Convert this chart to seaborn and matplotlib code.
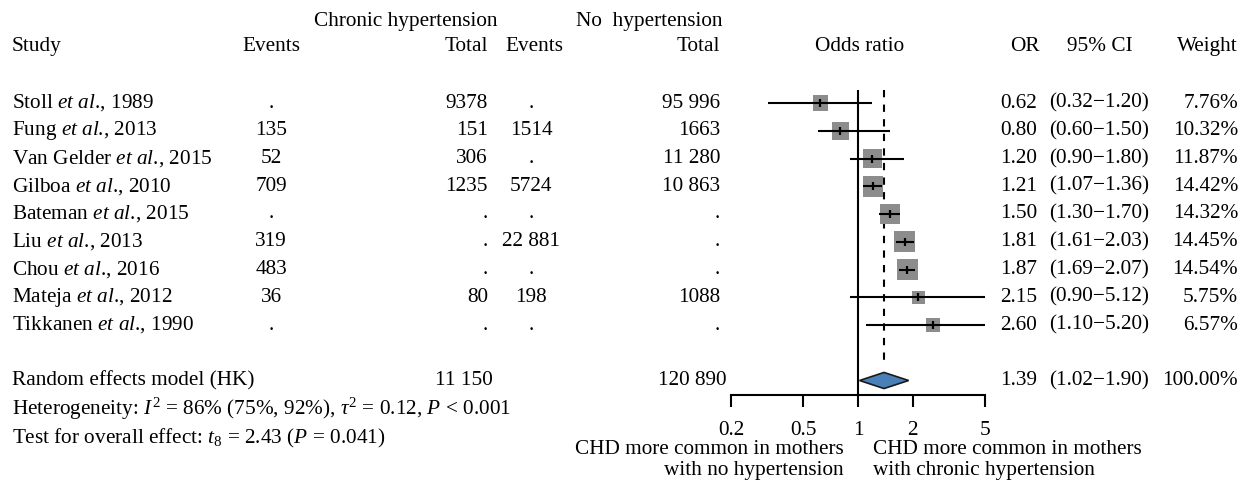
import numpy as np
import pandas as pd
import matplotlib
matplotlib.use("Agg")
import matplotlib.pyplot as plt
import matplotlib.transforms as mtransforms
import seaborn as sns

# ---------------- data ----------------
studies = [r"Stoll $\mathit{et\ al}$., 1989", r"Fung $\mathit{et\ al}$., 2013",
           r"Van Gelder $\mathit{et\ al}$., 2015", r"Gilboa $\mathit{et\ al}$., 2010",
           r"Bateman $\mathit{et\ al}$., 2015", r"Liu $\mathit{et\ al}$., 2013",
           r"Chou $\mathit{et\ al}$., 2016", r"Mateja $\mathit{et\ al}$., 2012",
           r"Tikkanen $\mathit{et\ al}$., 1990"]
ch_events = [".", "135", "52", "709", ".", "319", "483", "36", "."]
ch_total = ["9378", "151", "306", "1235", ".", ".", ".", "80", "."]
no_events = [".", "1514", ".", "5724", ".", "22 881", ".", "198", "."]
no_total = ["95 996", "1663", "11 280", "10 863", ".", ".", ".", "1088", "."]
odds = [0.62, 0.80, 1.20, 1.21, 1.50, 1.81, 1.87, 2.15, 2.60]
ci_low = [0.32, 0.60, 0.90, 1.07, 1.30, 1.61, 1.69, 0.90, 1.10]
ci_high = [1.20, 1.50, 1.80, 1.36, 1.70, 2.03, 2.07, 5.12, 5.20]
weights = [7.76, 10.32, 11.87, 14.42, 14.32, 14.45, 14.54, 5.75, 6.57]

summary_label = "Random effects model (HK)"
summary_ch_total = "11 150"
summary_no_total = "120 890"
summary_or = 1.39
summary_low = 1.02
summary_high = 1.90
summary_weight = 100.00

ticks = [0.2, 0.5, 1, 2, 5]
tick_labels = ["0.2", "0.5", "1", "2", "5"]

# ---------------- style ----------------
sns.set_theme(style="white")
plt.rcParams["font.family"] = ["Liberation Serif", "DejaVu Serif"]
plt.rcParams["mathtext.fontset"] = "custom"
plt.rcParams["mathtext.rm"] = "Liberation Serif"
plt.rcParams["mathtext.it"] = "Liberation Serif:italic"
plt.rcParams["mathtext.bf"] = "Liberation Serif:bold"
plt.rcParams["text.color"] = "black"
plt.rcParams["xtick.color"] = "black"
plt.rcParams["xtick.labelcolor"] = "black"

FS = 15.3
W, H = 1252, 483
fig = plt.figure(figsize=(W / 100, H / 100), dpi=100)

ax_left, ax_right = 731, 985
ax_top, ax_bot = 90, 395
ax = fig.add_axes([ax_left / W, 1 - ax_bot / H, (ax_right - ax_left) / W, (ax_bot - ax_top) / H])

n = len(studies)
rows = np.arange(n)
sum_row = n + 1
row_px = 27.75
y_top = -(103 - ax_top) / row_px
y_bot = (ax_bot - 103) / row_px

df = pd.DataFrame({"row": rows, "odds": odds, "lo": ci_low, "hi": ci_high, "w": weights})

# squares sized by weight
sns.scatterplot(data=df, x="odds", y="row", size="w", sizes=(0, 1550), size_norm=(0, 100),
                marker="s", color="#8c8c8c", edgecolor="none", legend=False, ax=ax, zorder=2)
# CI lines
ax.hlines(df["row"], df["lo"], df["hi"], color="black", lw=1.5, zorder=3)
# point estimate tick
sns.scatterplot(data=df, x="odds", y="row", marker="|", s=40, color="black",
                linewidth=1.6, legend=False, ax=ax, zorder=4)

# reference lines
ax.axvline(1, color="black", lw=1.5, zorder=1)
ax.plot([summary_or, summary_or], [y_top, n + 0.45], color="black", lw=1.5,
        dashes=(3.5, 3.5), zorder=1)

# summary diamond
dh = 0.29
ax.fill([summary_low, summary_or, summary_high, summary_or],
        [sum_row, sum_row - dh, sum_row, sum_row + dh],
        facecolor="#4a80b8", edgecolor="#1a1a1a", lw=1.2, zorder=3)

ax.set_xscale("log")
ax.set_xlim(0.2, 5)
ax.set_ylim(y_bot, y_top)
ax.set_xticks(ticks)
ax.set_xticklabels(tick_labels, fontsize=FS)
ax.minorticks_off()
ax.set_yticks([])
ax.set_xlabel("")
ax.set_ylabel("")
for s in ["top", "left", "right"]:
    ax.spines[s].set_visible(False)
ax.spines["bottom"].set_linewidth(1.5)
ax.spines["bottom"].set_color("black")
ax.tick_params(axis="x", direction="out", length=8.5, width=1.5, pad=10, colors="black",
               bottom=True)
ax.patch.set_alpha(0)

# ---------------- text ----------------
tr = mtransforms.blended_transform_factory(fig.transFigure, ax.transData)


def put(xpx, row, s, ha="left", **kw):
    ax.text(xpx / W, row, s, transform=tr, ha=ha, va="center", fontsize=FS,
            clip_on=False, color="black", **kw)


r_h1 = -2.95
r_h2 = -2.02
put(497, r_h1, "Chronic hypertension", ha="right")
put(722, r_h1, "No  hypertension", ha="right")
put(12, r_h2, "Study")
put(271, r_h2, "Events", ha="center")
put(488, r_h2, "Total", ha="right")
put(534, r_h2, "Events", ha="center")
put(720, r_h2, "Total", ha="right")
put(860, r_h2, "Odds ratio", ha="center")
put(1025, r_h2, "OR", ha="center")
put(1100, r_h2, "95% CI", ha="center")
put(1238, r_h2, "Weight", ha="right")

for i in range(n):
    put(12, i, studies[i])
    put(271, i, ch_events[i], ha="center")
    put(488, i, ch_total[i], ha="right")
    put(531, i, no_events[i], ha="center")
    put(720, i, no_total[i], ha="right")
    put(1037, i, f"{odds[i]:.2f}", ha="right")
    put(1049, i, f"({ci_low[i]:.2f}\u2212{ci_high[i]:.2f})")
    put(1238, i, f"{weights[i]:.2f}%", ha="right")

put(12, sum_row, summary_label)
put(493, sum_row, summary_ch_total, ha="right")
put(727, sum_row, summary_no_total, ha="right")
put(1037, sum_row, f"{summary_or:.2f}", ha="right")
put(1049, sum_row, f"({summary_low:.2f}\u2212{summary_high:.2f})")
put(1238, sum_row, f"{summary_weight:.2f}%", ha="right")

fig.text(12 / W, 1 - 409 / H,
         r"Heterogeneity: $I^2$ = 86% (75%, 92%), $\tau^2$ = 0.12, $P$ < 0.001",
         ha="left", va="center", fontsize=FS, color="black")
fig.text(12 / W, 1 - 438 / H,
         r"Test for overall effect: $t_8$ = 2.43 ($P$ = 0.041)",
         ha="left", va="center", fontsize=FS, color="black")

fig.text(844 / W, 1 - 449 / H, "CHD more common in mothers", ha="right", va="center",
         fontsize=FS, color="black")
fig.text(844 / W, 1 - 470 / H, "with no hypertension", ha="right", va="center",
         fontsize=FS, color="black")
fig.text(873 / W, 1 - 449 / H, "CHD more common in mothers", ha="left", va="center",
         fontsize=FS, color="black")
fig.text(873 / W, 1 - 470 / H, "with chronic hypertension", ha="left", va="center",
         fontsize=FS, color="black")

fig.savefig("out.png", dpi=100, facecolor="white")
